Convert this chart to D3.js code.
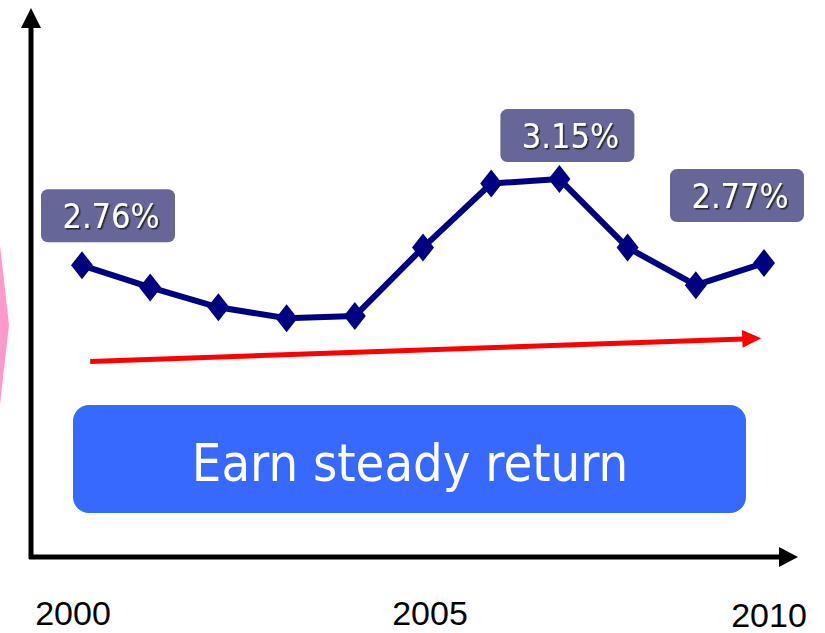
<!DOCTYPE html>
<html>
<head>
<meta charset="utf-8">
<script src="https://cdn.jsdelivr.net/npm/d3@7"></script>
<style>
  html, body { margin: 0; padding: 0; background: #fff; }
  svg { display: block; }
</style>
</head>
<body>
<div id="chart"></div>
<script>
/* yield per year */
const years = [2000, 2001, 2002, 2003, 2004, 2005, 2006, 2007, 2008, 2009, 2010];
const yields = [2.76, 2.66, 2.57, 2.52, 2.53, 2.84, 3.13, 3.15, 2.84, 2.67, 2.77];
const labelYears = [2000, 2007, 2010];
const tickYears = [2000, 2005, 2010];
// red trend arrow, start and end
const trendYears = [2000.12, 2009.96];
const trendValues = [2.325, 2.43];
const banner = "Earn steady return";

var W = 825, H = 633;

var svg = d3.select("#chart")
  .append("svg")
  .attr("width", W)
  .attr("height", H);

var xScale = d3.scaleLinear().domain([2000, 2010]).range([82, 764]);
var yScale = d3.scaleLinear().domain([1.44, 3.87]).range([557, 20]);

var defs = svg.append("defs");
var f = defs.append("filter").attr("id", "shadow")
  .attr("x", "-10%").attr("y", "-10%").attr("width", "130%").attr("height", "140%");
f.append("feDropShadow").attr("dx", 1.6).attr("dy", 1.6)
  .attr("stdDeviation", 0.7).attr("flood-color", "#222").attr("flood-opacity", 0.9);

/* pink shape peeking in from the left */
svg.append("polygon")
  .attr("points", "-6,192 9,325 -6,457")
  .attr("fill", "#ff99cc");

/* axes with arrow heads */
var ax = svg.append("g");
ax.append("line")
  .attr("x1", 31).attr("y1", 559).attr("x2", 31).attr("y2", 24)
  .attr("stroke", "#000").attr("stroke-width", 5);
ax.append("polygon")
  .attr("points", "21,28 41,28 31,8")
  .attr("fill", "#000");
ax.append("line")
  .attr("x1", 29).attr("y1", 557).attr("x2", 782).attr("y2", 557)
  .attr("stroke", "#000").attr("stroke-width", 5);
ax.append("polygon")
  .attr("points", "779,547 779,567 798,557")
  .attr("fill", "#000");

/* year ticks */
var tickShift = {2000: -9, 2005: 7, 2010: 5};
svg.selectAll("text.year")
  .data(tickYears).enter()
  .append("text")
  .attr("class", "year")
  .attr("x", d => xScale(d) + tickShift[d])
  .attr("y", d => d === 2010 ? 627 : 625)
  .attr("text-anchor", "middle")
  .attr("font-family", "Liberation Sans, Arial, sans-serif")
  .attr("font-size", 34)
  .attr("fill", "#000")
  .text(d => d);

/* banner box */
svg.append("rect")
  .attr("x", 73).attr("y", 405)
  .attr("width", 673).attr("height", 108)
  .attr("rx", 16)
  .attr("fill", "#3769fe");
svg.append("text")
  .attr("x", 410).attr("y", 481)
  .attr("text-anchor", "middle")
  .attr("font-family", "DejaVu Sans Condensed, DejaVu Sans, sans-serif")
  .attr("font-stretch", "condensed")
  .attr("font-size", 52)
  .attr("fill", "#fff")
  .text(banner);

/* red trend arrow */
var tx1 = xScale(trendYears[0]), ty1 = yScale(trendValues[0]);
var tx2 = xScale(trendYears[1]), ty2 = yScale(trendValues[1]);
var ang = Math.atan2(ty2 - ty1, tx2 - tx1);
var headL = 19, headW = 9;
var bx = tx2 - headL * Math.cos(ang), by = ty2 - headL * Math.sin(ang);
svg.append("line")
  .attr("x1", tx1).attr("y1", ty1).attr("x2", bx + 1).attr("y2", by)
  .attr("stroke", "#ff0000").attr("stroke-width", 5);
svg.append("polygon")
  .attr("points", [
    [tx2, ty2],
    [bx - headW * Math.sin(ang), by + headW * Math.cos(ang)],
    [bx + headW * Math.sin(ang), by - headW * Math.cos(ang)]
  ].map(p => p.join(",")).join(" "))
  .attr("fill", "#ff0000");

/* the yield line */
var data = years.map((y, i) => ({year: y, val: yields[i]}));
var line = d3.line().x(d => xScale(d.year)).y(d => yScale(d.val));
svg.append("path")
  .datum(data)
  .attr("d", line)
  .attr("fill", "none")
  .attr("stroke", "#000080")
  .attr("stroke-width", 6)
  .attr("stroke-linejoin", "round");

svg.selectAll("path.mark")
  .data(data).enter()
  .append("path")
  .attr("class", "mark")
  .attr("transform", d => `translate(${xScale(d.year)},${yScale(d.val)})`)
  .attr("d", "M0,-14L11,0L0,14L-11,0Z")
  .attr("fill", "#000080");

/* value call-outs */
var boxOff = {2000: [26, -23], 2007: [8, -17], 2010: [-27, -41]};
var lab = svg.selectAll("g.lab")
  .data(data.filter(d => labelYears.includes(d.year))).enter()
  .append("g")
  .attr("class", "lab")
  .attr("transform", d => {
    var o = boxOff[d.year];
    return `translate(${xScale(d.year) + o[0]},${yScale(d.val) + o[1]})`;
  });
lab.append("rect")
  .attr("x", -67).attr("y", -53)
  .attr("width", 134).attr("height", 53)
  .attr("rx", 7)
  .attr("fill", "#666699");
lab.append("text")
  .attr("x", 3).attr("y", -14)
  .attr("text-anchor", "middle")
  .attr("font-family", "DejaVu Sans Condensed, DejaVu Sans, sans-serif")
  .attr("font-stretch", "condensed")
  .attr("font-size", 34)
  .attr("fill", "#fff")
  .attr("filter", "url(#shadow)")
  .text(d => d.val.toFixed(2) + "%");
</script>
</body>
</html>
